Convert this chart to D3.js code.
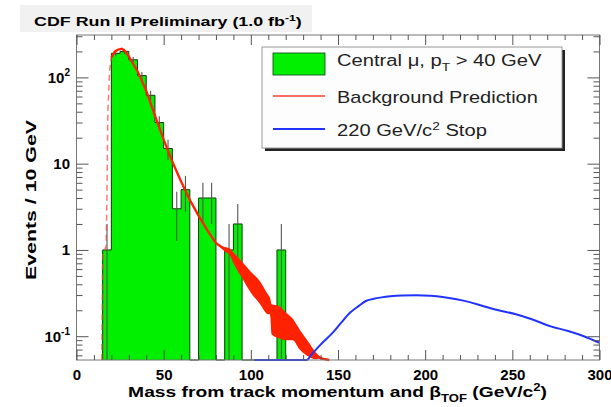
<!DOCTYPE html>
<html><head><meta charset="utf-8">
<script src="https://cdn.jsdelivr.net/npm/d3@7"></script>
<style>body{margin:0;background:#fff} svg{display:block}</style>
</head><body>
<svg id="chart" width="611" height="407"></svg>
<script>
// ---------- data ----------
const binLow    = [15, 20, 25, 30, 35, 40, 45, 50, 55, 60, 65, 70, 75, 80, 85, 90, 95, 100, 105, 110, 115];
const binCounts = [1, 190, 200, 160, 105, 62, 30, 15, 3, 5, 0, 4, 4, 0, 1, 2, 0, 0, 0, 0, 1];
const binWidth  = 5;

const bgMass  = [14.5, 15, 17, 17.5, 18, 19, 20, 22, 24, 26, 28, 30, 35, 40, 45, 50, 55, 60, 65, 70, 75, 80, 85, 88, 90, 95, 100, 105, 110, 111, 112, 116, 120, 124, 128, 133, 137, 141, 145];
const bgValue = [0.053, 0.9, 1.1, 5, 40, 120, 170, 200, 210, 215, 200, 175, 118, 70, 36, 19, 10.5, 6.2, 3.8, 2.5, 1.7, 1.2, 1.02, 0.95, 0.82, 0.6, 0.44, 0.34, 0.24, 0.23, 0.17, 0.16, 0.14, 0.125, 0.095, 0.072, 0.06, 0.055, 0.053];
const bgError = [0, 0, 0, 0, 0, 0, 0, 0, 0, 0, 0, 0, 0, 0, 0, 0, 0, 0, 0, 0, 0, 0, 0.06, 0.09, 0.12, 0.13, 0.12, 0.1, 0.06, 0.05, 0.065, 0.065, 0.05, 0.035, 0.025, 0.014, 0.006, 0, 0];

const stopMass  = [102, 110, 120, 130, 132, 135, 140, 147, 152, 157, 162, 166, 170, 175, 180, 187, 195, 203, 210, 218, 225, 233, 242, 252, 262, 272, 282, 291, 300];
const stopValue = [0.01, 0.01, 0.01, 0.02, 0.053, 0.062, 0.08, 0.11, 0.145, 0.188, 0.225, 0.256, 0.27, 0.282, 0.29, 0.296, 0.298, 0.294, 0.285, 0.268, 0.25, 0.224, 0.2, 0.18, 0.155, 0.13, 0.115, 0.1, 0.084];

const xTicks = [0, 50, 100, 150, 200, 250, 300];
const yTickValues = [0.1, 1, 10, 100];
const yTickLabels = [["10", "-1"], ["1", ""], ["10", ""], ["10", "2"]];

// ---------- layout ----------
const svg = d3.select("#chart");
const L = 76.5, R = 599.5, T = 35, B = 360;
const x = d3.scaleLinear().domain([0, 300]).range([L, R]);
const y = d3.scaleLog().domain([0.053, 310]).range([B, T]).clamp(true);
const ymin = y.domain()[0];
const FONT = "'Liberation Sans', Arial, Helvetica, sans-serif";

svg.append("rect").attr("width", 611).attr("height", 407).attr("fill", "#fff");

// title box
svg.append("rect").attr("x", 20).attr("y", 5).attr("width", 292).attr("height", 27).attr("fill", "#f1f1f1");

function fit(sel, tx, ty, target, rot) {
  const w = sel.node().getBBox().width;
  const sx = target / w;
  sel.attr("transform", `translate(${tx},${ty})` + (rot ? ` rotate(${rot})` : "") + ` scale(${sx},1)`);
}
function richText(parent, parts, size, weight, anchor) {
  const t = parent.append("text").attr("x", 0).attr("y", 0)
    .attr("font-family", FONT).attr("font-size", size).attr("font-weight", weight)
    .attr("text-anchor", anchor).attr("fill", "#000");
  parts.forEach(p => {
    const ts = t.append("tspan").text(p.t);
    if (p.sup) ts.attr("font-size", size * 0.68).attr("dy", -size * 0.4);
    if (p.sub) ts.attr("font-size", size * 0.68).attr("dy", size * 0.3);
    if (p.back) ts.attr("dy", p.back);
  });
  return t;
}

// histogram (single step area, no seams)
const plot = svg.append("g");
const stepPts = binLow.map((lo, i) => [lo, Math.max(binCounts[i], ymin)]);
stepPts.push([binLow[binLow.length - 1] + binWidth, Math.max(binCounts[binCounts.length - 1], ymin)]);
plot.append("path")
  .attr("d", d3.area().x(d => x(d[0])).y0(B).y1(d => y(d[1])).curve(d3.curveStepAfter)(stepPts))
  .attr("fill", "#00f000");
const outlinePts = [[binLow[0], ymin]].concat(stepPts).concat([[binLow[binLow.length - 1] + binWidth, ymin]]);
plot.append("path")
  .attr("d", d3.line().x(d => x(d[0])).y(d => y(d[1])).curve(d3.curveStepAfter)(outlinePts))
  .attr("fill", "none").attr("stroke", "#0d3d0d").attr("stroke-width", 1);
// error bars
binLow.forEach((lo, i) => {
  const c = binCounts[i];
  if (c <= 0) return;
  const xc = x(lo + binWidth / 2);
  const e = Math.sqrt(c);
  plot.append("line").attr("x1", xc).attr("x2", xc)
    .attr("y1", y(Math.max(c - e, ymin))).attr("y2", y(c + e))
    .attr("stroke", "#555").attr("stroke-width", 1.1);
});

// background band
const bg = bgMass.map((m, i) => ({m, v: bgValue[i], e: bgError[i]}));
plot.append("path")
  .attr("d", d3.area().x(d => x(d.m)).y0(d => y(Math.max(d.v - d.e, ymin))).y1(d => y(d.v + d.e)).curve(d3.curveMonotoneX)(bg.filter(d => d.m >= 80)))
  .attr("fill", "#ff2200");
plot.append("path")
  .attr("d", d3.line().x(d => x(d.m)).y(d => y(d.v))(bg.filter(d => d.m <= 20)))
  .attr("fill", "none").attr("stroke", "#ff4030").attr("stroke-width", 1.5).attr("stroke-dasharray", "6,4").attr("opacity", 0.7);
plot.append("path")
  .attr("d", d3.line().x(d => x(d.m)).y(d => y(d.v))(bg.filter(d => d.m >= 20)))
  .attr("fill", "none").attr("stroke", "#ff2200").attr("stroke-width", 2.3);

// stop curve
plot.append("path")
  .attr("d", d3.line().x((d, i) => x(stopMass[i])).y(d => y(d)).curve(d3.curveMonotoneX)(stopValue))
  .attr("fill", "none").attr("stroke", "#2233ff").attr("stroke-width", 2);

// frame
svg.append("rect").attr("x", L).attr("y", T).attr("width", R - L).attr("height", B - T)
  .attr("fill", "none").attr("stroke", "#777").attr("stroke-width", 1);

// axes
const minorX = d3.range(0, 301, 10).filter(v => v % 50 !== 0);
const ax = svg.append("g").attr("transform", `translate(0,${B})`)
  .call(d3.axisBottom(x).tickValues(xTicks).tickSizeInner(-10).tickSizeOuter(0).tickPadding(9));
ax.select(".domain").remove();
ax.selectAll("text").attr("font-family", FONT).attr("font-size", 15).attr("font-weight", "bold").attr("fill", "#000");
const axm = svg.append("g").attr("transform", `translate(0,${B})`)
  .call(d3.axisBottom(x).tickValues(minorX).tickSizeInner(-5).tickSizeOuter(0).tickFormat(""));
axm.select(".domain").remove();
const axt = svg.append("g").attr("transform", `translate(0,${T})`)
  .call(d3.axisTop(x).tickValues(xTicks).tickSizeInner(-10).tickSizeOuter(0).tickFormat(""));
axt.select(".domain").remove();
const axtm = svg.append("g").attr("transform", `translate(0,${T})`)
  .call(d3.axisTop(x).tickValues(minorX).tickSizeInner(-5).tickSizeOuter(0).tickFormat(""));
axtm.select(".domain").remove();

const minorY = y.ticks().filter(v => !yTickValues.includes(v) && v > ymin);
[["axisLeft", L], ["axisRight", R]].forEach(([fn, pos]) => {
  const gM = svg.append("g").attr("transform", `translate(${pos},0)`)
    .call(d3[fn](y).tickValues(yTickValues).tickSizeInner(-12).tickSizeOuter(0).tickFormat(""));
  gM.select(".domain").remove();
  const gm = svg.append("g").attr("transform", `translate(${pos},0)`)
    .call(d3[fn](y).tickValues(minorY).tickSizeInner(-6).tickSizeOuter(0).tickFormat(""));
  gm.select(".domain").remove();
});
svg.selectAll(".tick line").attr("stroke", "#555");

// y tick labels
yTickValues.forEach((v, i) => {
  const [base, sup] = yTickLabels[i];
  const t = svg.append("text").attr("x", 70).attr("y", y(v) + 5.5).attr("text-anchor", "end")
    .attr("font-family", FONT).attr("font-size", 15).attr("font-weight", "bold").attr("fill", "#000");
  t.append("tspan").text(base);
  if (sup) t.append("tspan").text(sup).attr("font-size", 10).attr("dy", -7);
});

// axis titles
const xt = richText(svg, [{t: "Mass from track momentum and β"}, {t: "TOF", sub: true}, {t: " (GeV/c", back: -15 * 0.3}, {t: "2", sup: true}, {t: ")", back: 15 * 0.4}], 15, "bold", "middle");
fit(xt, 337.5, 397, 419);
const yt = richText(svg, [{t: "Events / 10 GeV"}], 15, "bold", "middle");
fit(yt, 36, 200, 160, -90);

// title
const tt = richText(svg, [{t: "CDF Run II Preliminary (1.0 fb"}, {t: "-1", sup: true}, {t: ")", back: 13 * 0.4}], 13, "bold", "start");
fit(tt, 34, 26, 268);

// legend
const lg = svg.append("g");
lg.append("rect").attr("x", 265).attr("y", 50).attr("width", 300).attr("height", 101).attr("fill", "#222");
lg.append("rect").attr("x", 262).attr("y", 47).attr("width", 300).attr("height", 101).attr("fill", "#fdfdfd").attr("stroke", "#999");
lg.append("rect").attr("x", 273).attr("y", 53).attr("width", 52).attr("height", 22).attr("fill", "#00f000").attr("stroke", "#0d3d0d").attr("stroke-width", 0.8);
lg.append("line").attr("x1", 273).attr("x2", 325).attr("y1", 96).attr("y2", 96).attr("stroke", "#ff3b2b").attr("stroke-width", 1.6);
lg.append("line").attr("x1", 273).attr("x2", 325).attr("y1", 129).attr("y2", 129).attr("stroke", "#2233ff").attr("stroke-width", 2.2);
const l1 = richText(lg, [{t: "Central μ, p"}, {t: "T", sub: true}, {t: " > 40 GeV", back: -16 * 0.3}], 16, "normal", "start");
fit(l1, 337, 66, 205);
const l2 = richText(lg, [{t: "Background Prediction"}], 16, "normal", "start");
fit(l2, 337, 103, 201);
const l3 = richText(lg, [{t: "220 GeV/c"}, {t: "2", sup: true}, {t: " Stop", back: 16 * 0.4}], 16, "normal", "start");
fit(l3, 337, 136, 150);
lg.selectAll("text").attr("fill", "#222");
</script>
</body></html>
